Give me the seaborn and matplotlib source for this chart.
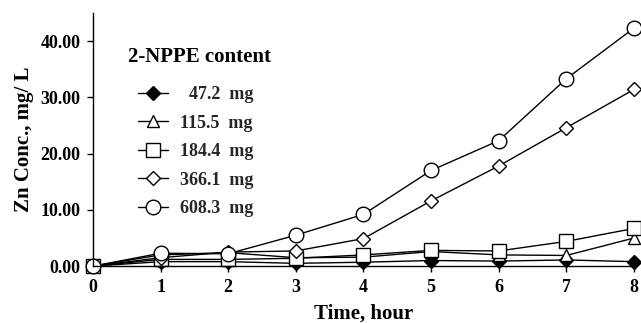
import matplotlib
matplotlib.use("Agg")
import matplotlib.pyplot as plt
import seaborn as sns
import pandas as pd
from matplotlib.ticker import FormatStrFormatter

time_h = [0, 1, 2, 3, 4, 5, 6, 7, 8]
s_47_2 = [0.0, 0.8, 0.8, 0.5, 0.7, 1.0, 0.9, 1.1, 0.8]
s_115_5 = [0.0, 2.0, 2.4, 1.5, 1.6, 2.6, 2.0, 1.9, 5.0]
s_184_4 = [0.0, 1.2, 1.2, 1.4, 2.0, 2.8, 2.7, 4.4, 6.7]
s_366_1 = [0.0, 1.5, 2.5, 2.7, 4.9, 11.6, 17.8, 24.6, 31.4]
s_608_3 = [0.0, 2.3, 2.2, 5.5, 9.2, 17.0, 22.3, 33.3, 42.3]
labels = ["  47.2  mg", "115.5  mg", "184.4  mg", "366.1  mg", "608.3  mg"]
series = [s_47_2, s_115_5, s_184_4, s_366_1, s_608_3]
legend_title = "2-NPPE content"

markers = ["D", "^", "s", "D", "o"]
msizes = [7, 9, 10, 7, 10.5]
faces = ["black", "white", "white", "white", "white"]

sns.set_theme(style="ticks")
plt.rcParams["font.family"] = ["Liberation Serif", "DejaVu Serif"]
plt.rcParams["font.weight"] = "bold"
plt.rcParams["axes.labelweight"] = "bold"

fig = plt.figure(figsize=(6.41, 3.23), dpi=100)
ax = fig.add_axes([0.145, 0.176, 0.844, 0.784])

for lab, vals, mk, ms, fc in zip(labels, series, markers, msizes, faces):
    df = pd.DataFrame({"t": time_h, "v": vals})
    sns.lineplot(data=df, x="t", y="v", ax=ax, color="black", marker=mk,
                 markersize=ms, markerfacecolor=fc, markeredgecolor="black",
                 markeredgewidth=1.0, linewidth=1.0, label=lab, clip_on=False)

ax.set_xlim(0, 8)
ax.set_ylim(0, 45)
ax.set_xticks(range(0, 9))
ax.set_yticks([0, 10, 20, 30, 40])
ax.yaxis.set_major_formatter(FormatStrFormatter("%.2f"))
ax.tick_params(axis="both", direction="out", length=4, width=1, color="black",
               labelsize=13, labelcolor="black")
ax.tick_params(axis="x", pad=5)
ax.tick_params(axis="y", pad=5)
for s in ["top", "right"]:
    ax.spines[s].set_visible(False)
for s in ["left", "bottom"]:
    ax.spines[s].set_color("black")
    ax.spines[s].set_linewidth(1.0)

ax.set_xlabel("Time, hour", fontsize=15, fontweight="bold", labelpad=6, color="black")
ax.set_ylabel("Zn Conc., mg/ L", fontsize=15, fontweight="bold", labelpad=5, color="black")

ax.text(0.065, 0.826, legend_title, transform=ax.transAxes, fontsize=15,
        fontweight="bold", ha="left", va="center", color="black")

leg = ax.legend(loc="upper left", bbox_to_anchor=(0.083, 0.711),
                frameon=False, fontsize=13, borderaxespad=0, borderpad=0,
                handlelength=1.67, labelspacing=0.64, handletextpad=0.67)
for t in leg.get_texts():
    t.set_fontweight("bold")

fig.savefig("out.png", dpi=100)
